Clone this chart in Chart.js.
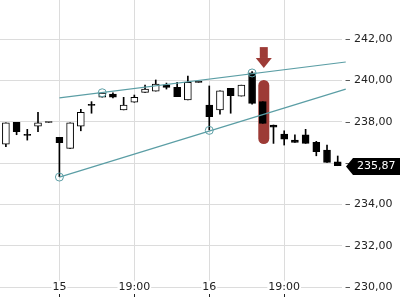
<!DOCTYPE html>
<html>
<head>
<meta charset="utf-8">
<script src="https://cdn.jsdelivr.net/npm/chart.js@4.4.1/dist/chart.umd.min.js"></script>
<style>
  html, body { margin: 0; padding: 0; background: #fff; }
  #wrap { width: 400px; height: 300px; }
</style>
</head>
<body>
<div id="wrap"><canvas id="chart"></canvas></div>
<script>
// half-hour candles, 14th evening -> 16th evening
const opens  = [236.91, 237.97, 237.36, 237.78, 237.97, 237.24, 236.71, 237.78, 238.80, 239.19, 239.34, 238.57, 238.94, 239.42, 239.48, 239.79,
                239.66, 239.05, 239.91, 238.81, 238.57, 239.61, 239.24, 240.37, 238.97, 237.84, 237.40, 237.11, 237.36, 237.00, 236.63, 236.06];
const highs  = [237.95, 237.97, 237.63, 238.45, 237.97, 237.24, 237.95, 238.60, 238.97, 239.42, 239.40, 239.18, 239.29, 239.77, 240.02, 239.87,
                239.91, 240.21, 239.91, 239.73, 239.50, 239.61, 239.77, 240.42, 238.97, 237.84, 237.56, 237.36, 237.63, 237.05, 236.87, 236.34];
const lows   = [236.79, 237.37, 237.11, 237.52, 237.97, 235.34, 236.71, 237.56, 238.41, 239.19, 239.15, 238.57, 238.94, 239.42, 239.48, 239.58,
                239.21, 239.05, 239.91, 237.60, 238.36, 238.41, 239.24, 238.85, 237.92, 236.95, 236.87, 237.00, 236.95, 236.35, 236.03, 235.87];
const closes = [237.95, 237.52, 237.34, 237.94, 237.96, 236.98, 237.95, 238.45, 238.79, 239.39, 239.19, 238.81, 239.18, 239.58, 239.82, 239.66,
                239.21, 239.91, 239.90, 238.24, 239.50, 239.26, 239.77, 238.89, 237.92, 237.73, 237.15, 237.00, 236.95, 236.55, 236.03, 235.87];

const xTickPos  = [5, 12, 19, 26];
const xTickText = ['15', '19:00', '16', '19:00'];

// trend channel (candle index, price)
const upperLine  = [[5, 239.15], [31.75, 240.89]];
const lowerLine  = [[5, 235.32], [31.75, 239.58]];
const touchUpper = [[9, 239.40], [23, 240.36]];
const touchLower = [[5, 235.32], [19, 237.58]];

// highlighted candle
const markIdx   = 24;
const pillRange = [236.92, 240.02];
const arrowRange = [240.60, 241.61];

const teal = '#5b9ea5';
const markColor = '#9d3b36';
const fmt = v => v.toFixed(2).replace('.', ',');

Chart.defaults.font.family = "'DejaVu Sans', sans-serif";
Chart.defaults.font.size = 11;
Chart.defaults.color = '#222';

const bodies = opens.map((o, i) => ({ x: i, y: [o, closes[i]] }));
const wicks = lows.map((l, i) => ({ x: i, y: [l, highs[i]] }));
const isUp = opens.map((o, i) => closes[i] > o);
const toPts = arr => arr.map(p => ({ x: p[0], y: p[1] }));

const overlay = {
    id: 'overlay',
    beforeDatasetsDraw(chart) {
        const { ctx, scales: { x, y } } = chart;
        const cx = x.getPixelForValue(markIdx) + 1;
        const top = y.getPixelForValue(pillRange[1]);
        const bot = y.getPixelForValue(pillRange[0]);
        const w = 11;
        ctx.save();
        ctx.fillStyle = markColor;
        ctx.beginPath();
        ctx.roundRect(cx - w / 2, top, w, bot - top, w / 2);
        ctx.fill();
        ctx.restore();
    },
    afterDatasetsDraw(chart) {
        const { ctx, scales: { x, y } } = chart;
        const cx = x.getPixelForValue(markIdx) + 1;
        const top = y.getPixelForValue(arrowRange[1]);
        const tip = y.getPixelForValue(arrowRange[0]);
        const headH = 10;
        ctx.save();
        ctx.fillStyle = markColor;
        ctx.fillRect(cx - 4, top, 8, tip - headH - top);
        ctx.beginPath();
        ctx.moveTo(cx - 8, tip - headH);
        ctx.lineTo(cx + 8, tip - headH);
        ctx.lineTo(cx, tip);
        ctx.closePath();
        ctx.fill();
        ctx.restore();
    },
    afterDraw(chart) {
        // last price tag on the right axis
        const { ctx, chartArea, scales: { y } } = chart;
        const last = closes[closes.length - 1];
        const py = Math.round(y.getPixelForValue(last)) + 0.5;
        const x0 = chartArea.right + 4;
        ctx.save();
        ctx.fillStyle = '#000';
        ctx.beginPath();
        ctx.moveTo(x0, py);
        ctx.lineTo(x0 + 7, py - 8.5);
        ctx.lineTo(400, py - 8.5);
        ctx.lineTo(400, py + 8.5);
        ctx.lineTo(x0 + 7, py + 8.5);
        ctx.closePath();
        ctx.fill();
        ctx.fillStyle = '#fff';
        ctx.font = "11px 'DejaVu Sans'";
        ctx.textBaseline = 'middle';
        ctx.fillText(fmt(last), x0 + 11, py);
        ctx.restore();
    }
};

new Chart(document.getElementById('chart'), {
    type: 'bar',
    data: {
        datasets: [
            { type: 'line', data: toPts(touchUpper), showLine: false, pointRadius: 4, pointBorderWidth: 1,
              pointBorderColor: teal, pointBackgroundColor: 'rgba(0,0,0,0)', order: 0, clip: false },
            { type: 'line', data: toPts(touchLower), showLine: false, pointRadius: 4, pointBorderWidth: 1,
              pointBorderColor: teal, pointBackgroundColor: 'rgba(0,0,0,0)', order: 0, clip: false },
            { type: 'line', data: toPts(upperLine), borderColor: teal, borderWidth: 1.2, pointRadius: 0, order: 1, clip: false },
            { type: 'line', data: toPts(lowerLine), borderColor: teal, borderWidth: 1.2, pointRadius: 0, order: 1, clip: false },
            { data: bodies, barThickness: 7, grouped: false, minBarLength: 1, borderSkipped: false, borderWidth: 1,
              borderColor: '#000', backgroundColor: isUp.map(u => u ? '#fff' : '#000'), order: 2 },
            { data: wicks, barThickness: 1, grouped: false, borderWidth: 0, backgroundColor: '#000', order: 3 }
        ]
    },
    options: {
        responsive: true,
        maintainAspectRatio: false,
        animation: false,
        layout: { padding: 0, autoPadding: false },
        plugins: { legend: { display: false }, tooltip: { enabled: false } },
        scales: {
            x: {
                type: 'linear',
                min: -0.55,
                max: 31.4,
                offset: false,
                afterFit: s => { s.height = 13; s.paddingLeft = 0; s.paddingRight = 0; },
                afterBuildTicks: s => { s.ticks = xTickPos.map(v => ({ value: v })); },
                border: { display: false },
                grid: { offset: false, color: '#dcdcdc', tickColor: '#222', tickLength: 10, drawTicks: true },
                ticks: {
                    autoSkip: false, maxRotation: 0, mirror: true, padding: -7,
                    showLabelBackdrop: true, backdropColor: '#fff', backdropPadding: { top: 0, bottom: 0, left: 1, right: 1 },
                    callback: (v, i) => xTickText[i]
                }
            },
            y: {
                position: 'right',
                min: 230,
                max: 243.89,
                afterFit: s => { s.width = 58; s.paddingTop = 0; s.paddingBottom = 0; },
                border: { display: false },
                grid: { color: '#dcdcdc', drawTicks: false },
                ticks: { stepSize: 2, includeBounds: false, padding: 3, callback: v => '– ' + fmt(v) }
            }
        }
    },
    plugins: [overlay]
});
</script>
</body>
</html>
